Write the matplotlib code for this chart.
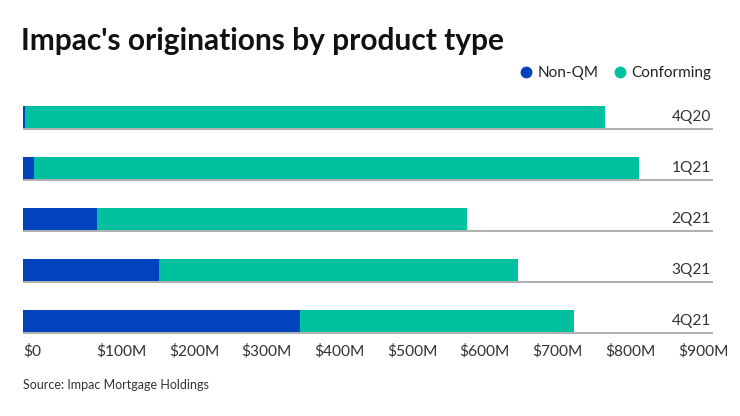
import numpy as np
import matplotlib
matplotlib.use('Agg')
import matplotlib.pyplot as plt
from matplotlib.lines import Line2D

plt.rcParams['font.family'] = ['Lato', 'DejaVu Sans']

# Datos (millones de USD)
quarters = ['4Q20', '1Q21', '2Q21', '3Q21', '4Q21']
non_qm = [2.5, 15, 101, 186, 381]
conforming = [797.5, 832, 509, 494, 376]
tick_values = [0, 100, 200, 300, 400, 500, 600, 700, 800, 900]
tick_labels = ['$0', '$100M', '$200M', '$300M', '$400M', '$500M', '$600M', '$700M', '$800M', '$900M']

blue = '#0043bc'
green = '#00c19f'

W, H = 740, 416
fig = plt.figure(figsize=(W / 100, H / 100), dpi=100)

# posicion del eje en pixeles
left_px, right_px = 23.3, 713
top_px, bottom_px = 91.5, 340
unit = 51.0
ax = fig.add_axes([left_px / W, 1 - bottom_px / H, (right_px - left_px) / W, (bottom_px - top_px) / H])

y = np.arange(len(quarters))
bar_h = 22 / unit
ax.barh(y, non_qm, height=bar_h, color=blue, linewidth=0)
ax.barh(y, conforming, left=non_qm, height=bar_h, color=green, linewidth=0)

# linea gris debajo de cada barra
ax.hlines(y + bar_h / 2 + 1.0 / unit, 0, 1, transform=ax.get_yaxis_transform(),
          color='#a8a8a8', linewidth=1.3)

scale = 0.7273  # px por millon
ax.set_xlim(0, (right_px - left_px) / scale)
ax.set_ylim(-0.5 + (bottom_px - top_px) / unit, -0.5)

for yi, q in zip(y, quarters):
    ax.text(0.997, yi, q, transform=ax.get_yaxis_transform(), ha='right', va='center',
            fontsize=11.2, color='#333333')

ax.set_xticks(tick_values)
ax.set_xticklabels(tick_labels, fontsize=11.2, color='#333333')
for lbl in ax.get_xticklabels():
    lbl.set_horizontalalignment('left')
ax.tick_params(axis='x', length=0, pad=3)
ax.set_yticks([])
for s in ax.spines.values():
    s.set_visible(False)

fig.text(21 / W, 1 - 41 / H, "Impac's originations by product type", fontsize=21.5,
         fontweight='bold', color='#111111', va='center', ha='left')

handles = [Line2D([], [], marker='o', linestyle='', color=blue, markersize=7.5),
           Line2D([], [], marker='o', linestyle='', color=green, markersize=7.5)]
fig.legend(handles, ['Non-QM', 'Conforming'], loc='center right', ncol=2,
           bbox_to_anchor=(719 / W, 1 - 73 / H), frameon=False, fontsize=11,
           handletextpad=0.25, columnspacing=0.9, borderpad=0, handlelength=1.0,
           labelcolor='#222222')

fig.text(23 / W, 1 - 385 / H, 'Source: Impac Mortgage Holdings', fontsize=9,
         color='#333333', va='center', ha='left')

fig.savefig('out.png', dpi=100)
